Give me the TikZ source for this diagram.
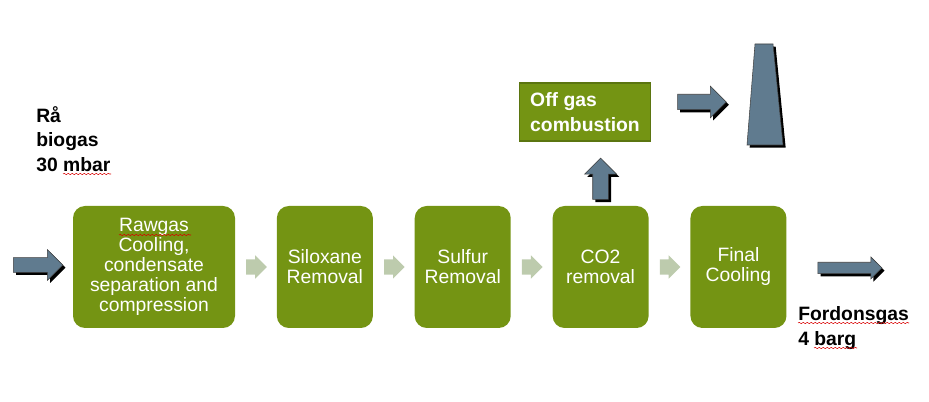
\documentclass[tikz,border=0pt]{standalone}
\usepackage{fontspec}
\setmainfont{Liberation Sans}
\usetikzlibrary{positioning,shapes.arrows,shadows,decorations.pathmorphing}

\definecolor{boxgreen}{HTML}{749413}
\definecolor{boxedge}{HTML}{5B7510}
\definecolor{lightarrow}{HTML}{BDCBAD}
\definecolor{steel}{HTML}{607B8F}

\tikzset{
  stepbox/.style={rectangle,rounded corners=9pt,fill=boxgreen,text=white,align=center,
    minimum width=72pt,minimum height=91.5pt,inner sep=0pt,
    font=\fontsize{14.5}{15}\selectfont},
  flowarrow/.style={single arrow,fill=lightarrow,inner xsep=0pt,inner ysep=5.6pt,minimum width=17.5pt,
    minimum height=15.5pt,single arrow head extend=3pt},
  gasshape/.style={draw=black!75,fill=steel,
    drop shadow={shadow xshift=2pt,shadow yshift=-2pt,fill=black,opacity=1}},
  gasarrow/.style={single arrow,gasshape},
  gaslabel/.style={align=left,inner sep=0pt,anchor=north west,
    font=\fontsize{14.5}{18.4}\selectfont\bfseries},
  proofmark/.style={draw=red!85!black,line width=.4pt,decorate,
    decoration={snake,amplitude=.5pt,segment length=3pt}}
}

\begin{document}
\begin{tikzpicture}[x=.75pt,y=-.75pt,node distance=31pt]
  \useasboundingbox (0,0) rectangle (929,402);

  % process line
  \node (rawgas)[stepbox,minimum width=121.5pt] at (154,267) {Rawgas\\Cooling,\\condensate\\separation and\\compression};
  \node (siloxane)[stepbox,right=of rawgas] {Siloxane\\Removal};
  \node (sulfur)[stepbox,right=of siloxane] {Sulfur\\Removal};
  \node (cotwo)[stepbox,right=of sulfur] {CO2\\removal};
  \node (finalcool)[stepbox,right=of cotwo] {Final\\Cooling};

  % small arrows between the steps
  \node (flowa)[flowarrow,right=8pt of rawgas] {};
  \node (flowb)[flowarrow,right=8pt of siloxane] {};
  \node (flowc)[flowarrow,right=8pt of sulfur] {};
  \node (flowd)[flowarrow,right=8pt of cotwo] {};

  % off gas branch
  \node (offgas)[rectangle,draw=boxedge,line width=1pt,fill=boxgreen,text=white,align=left,
    minimum width=98pt,minimum height=43.5pt,inner sep=0pt,
    font=\fontsize{14.5}{18.4}\selectfont\bfseries] at (585,112) {Off gas\\combustion};
  \path[gasshape] (755,44) -- (773,44) -- (783,145) -- (747,145) -- cycle;

  % gas arrows
  \node (gasin)[gasarrow,inner xsep=0pt,inner ysep=5.25pt,minimum width=23pt,minimum height=37pt,single arrow head extend=6pt] at (34.5,265) {};
  \node (gasup)[gasarrow,shape border rotate=90,inner sep=5.6pt,minimum width=24pt,minimum height=31pt,
    single arrow head extend=6pt,above=4.5pt of cotwo] {};
  \node (gasstack)[gasarrow,inner xsep=0pt,inner ysep=5.6pt,minimum width=23.5pt,minimum height=36.5pt,single arrow head extend=6pt] at (698,102) {};
  \node (gasout)[gasarrow,inner xsep=0pt,inner ysep=4.1pt,minimum width=16.5pt,minimum height=48pt,single arrow head extend=4pt] at (847,268) {};

  % labels
  \node (rawlabel)[gaslabel] at (36,106) {Rå\\biogas\\30 mbar};
  \node (outlabel)[gaslabel] at (798,306.5) {Fordonsgas\\4 barg};

  % spelling marks
  \coordinate (marka) at (119,235);
  \coordinate (markb) at (191,235);
  \coordinate (markc) at (63,174);
  \coordinate (markd) at (111,174);
  \coordinate (marke) at (798,323);
  \coordinate (markf) at (909,323);
  \coordinate (markg) at (814,348);
  \coordinate (markh) at (857,348);
  \draw[proofmark] (marka) -- (markb);
  \draw[proofmark] (markc) -- (markd);
  \draw[proofmark] (marke) -- (markf);
  \draw[proofmark] (markg) -- (markh);
\end{tikzpicture}
\end{document}
